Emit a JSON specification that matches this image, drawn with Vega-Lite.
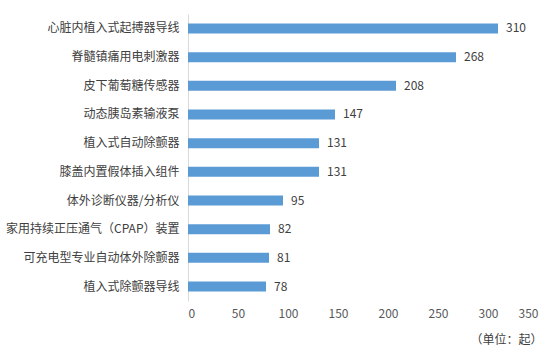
{
  "$schema": "https://vega.github.io/schema/vega-lite/v6.json",
  "width": 350,
  "height": 287,
  "autosize": {"type": "none"},
  "padding": {"left": 188, "top": 14, "right": 17, "bottom": 60},
  "background": "white",
  "config": {
    "view": {"stroke": null},
    "font": "Noto Sans CJK SC",
    "text": {"font": "Noto Sans CJK SC"}
  },
  "data": {
    "values": [
      {"name": "心脏内植入式起搏器导线", "count": 310},
      {"name": "脊髓镇痛用电刺激器", "count": 268},
      {"name": "皮下葡萄糖传感器", "count": 208},
      {"name": "动态胰岛素输液泵", "count": 147},
      {"name": "植入式自动除颤器", "count": 131},
      {"name": "膝盖内置假体插入组件", "count": 131},
      {"name": "体外诊断仪器/分析仪", "count": 95},
      {"name": "家用持续正压通气（CPAP）装置", "count": 82},
      {"name": "可充电型专业自动体外除颤器", "count": 81},
      {"name": "植入式除颤器导线", "count": 78}
    ]
  },
  "encoding": {
    "y": {
      "field": "name",
      "type": "nominal",
      "sort": null,
      "scale": {"paddingInner": 0.65, "paddingOuter": 0.33},
      "axis": {
        "title": null,
        "ticks": false,
        "domainColor": "#d9d9d9",
        "labelFont": "Noto Sans CJK SC",
        "labelFontSize": 12,
        "labelColor": "#404040",
        "labelPadding": 9,
        "labelLimit": 200
      }
    },
    "x": {
      "field": "count",
      "type": "quantitative",
      "scale": {"domain": [0, 350], "nice": false},
      "axis": {
        "values": [0, 50, 100, 150, 200, 250, 300, 350],
        "grid": false,
        "domain": false,
        "ticks": false,
        "labelFont": "Noto Sans CJK SC",
        "labelFontSize": 12,
        "labelColor": "#595959",
        "labelPadding": 7,
        "title": "（单位：起）",
        "titleFont": "Noto Sans CJK SC",
        "titleFontSize": 12,
        "titleFontWeight": "normal",
        "titleColor": "#404040",
        "titleAnchor": "end",
        "titleAlign": "right",
        "titleX": 354,
        "titlePadding": 15
      }
    }
  },
  "layer": [
    {"mark": {"type": "bar", "color": "#5B9BD5"}},
    {
      "mark": {"type": "text", "align": "left", "dx": 8, "fontSize": 12, "color": "#404040", "font": "Noto Sans CJK SC"},
      "encoding": {"text": {"field": "count", "type": "quantitative"}}
    }
  ]
}
